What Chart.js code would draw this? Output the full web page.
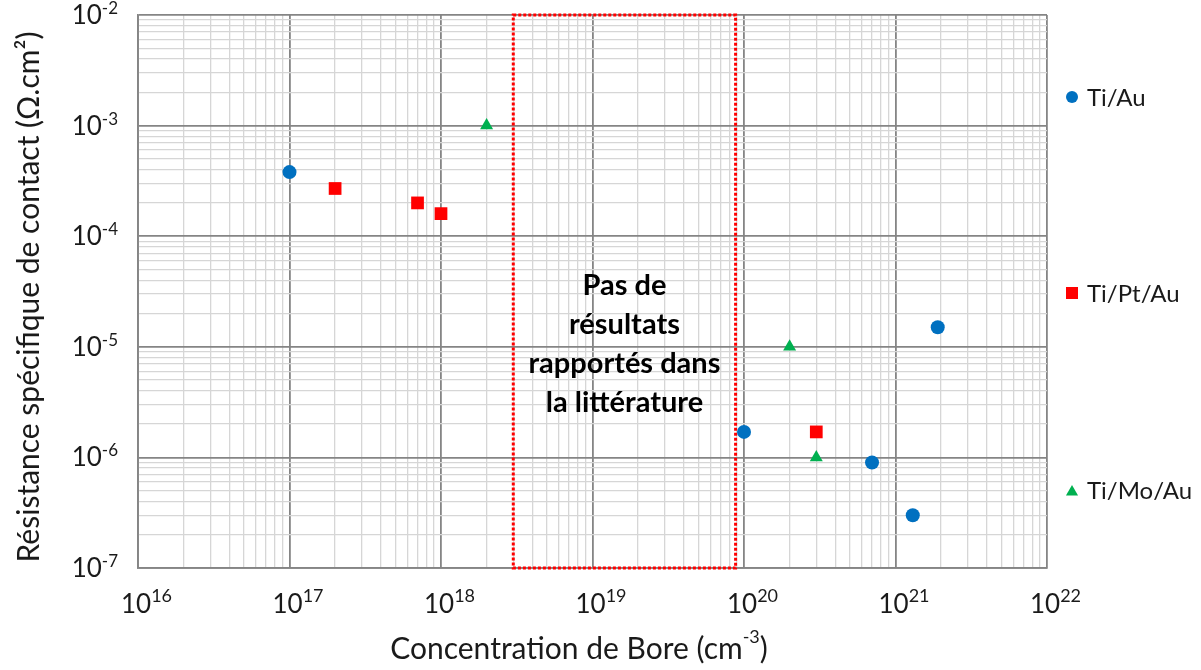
<!DOCTYPE html>
<html>
<head>
<meta charset="utf-8">
<script src="https://cdn.jsdelivr.net/npm/chart.js@4/dist/chart.umd.min.js"></script>
<style>
  html, body { margin: 0; padding: 0; background: #fff; }
  #wrap { position: relative; width: 1201px; height: 670px; }
</style>
</head>
<body>
<div id="wrap"><canvas id="chart" width="1201" height="670"></canvas></div>
<script>
// data
const seriesNames = ['Ti/Au', 'Ti/Pt/Au', 'Ti/Mo/Au'];
const tiAuX = [1e17, 1e20, 7e20, 1.3e21, 1.9e21];
const tiAuY = [3.8e-4, 1.7e-6, 9e-7, 3e-7, 1.5e-5];
const tiPtAuX = [2e17, 7e17, 1e18, 3e20];
const tiPtAuY = [2.7e-4, 2e-4, 1.6e-4, 1.7e-6];
const tiMoAuX = [2e18, 2e20, 3e20];
const tiMoAuY = [1e-3, 1e-5, 1e-6];

const xExponents = [16, 17, 18, 19, 20, 21, 22];
const yExponents = [-7, -6, -5, -4, -3, -2];

// zone with no reported results
const gapX = [3e18, 8.8e19];
const gapY = [1e-7, 1e-2];
const gapText = ['Pas de', 'résultats', 'rapportés dans', 'la littérature'];

const xTitle = 'Concentration de Bore (cm';
const xTitleSup = '-3';
const xTitleEnd = ')';
const yTitle = 'Résistance spécifique de contact (Ω.cm²)';

const FONT = 'Lato, "Open Sans", sans-serif';

function toPoints(xs, ys) {
  return xs.map((x, i) => ({ x: x, y: ys[i] }));
}

// all 1..9 x 10^n ticks so the minor grid shows
function logTicks(exps) {
  const out = [];
  for (let i = 0; i < exps.length; i++) {
    const base = Math.pow(10, exps[i]);
    out.push({ value: base });
    if (i < exps.length - 1) {
      for (let m = 2; m <= 9; m++) out.push({ value: m * base });
    }
  }
  return out;
}

function isMajor(v) {
  const l = Math.log10(v);
  return Math.abs(l - Math.round(l)) < 1e-6;
}

function gridColor(ctx) {
  return ctx.tick && isMajor(ctx.tick.value) ? '#858585' : '#d6d6d6';
}
function gridWidth(ctx) {
  return ctx.tick && isMajor(ctx.tick.value) ? 1.8 : 1.3;
}

// "10" with a raised exponent, left edge at x
function drawPow(ctx, left, y, exp, big, small, rise) {
  ctx.textAlign = 'left';
  ctx.textBaseline = 'alphabetic';
  ctx.font = big + 'px ' + FONT;
  const w1 = ctx.measureText('10').width;
  ctx.fillText('10', left, y);
  ctx.font = small + 'px ' + FONT;
  ctx.fillText(exp, left + w1, y - rise);
  return w1 + ctx.measureText(exp).width;
}

function powWidth(ctx, exp, big, small) {
  ctx.font = big + 'px ' + FONT;
  const w1 = ctx.measureText('10').width;
  ctx.font = small + 'px ' + FONT;
  return w1 + ctx.measureText(exp).width;
}

const decorPlugin = {
  id: 'decor',
  beforeDatasetsDraw(chart) {
    const ctx = chart.ctx;
    const xs = chart.scales.x, ys = chart.scales.y;
    const x0 = xs.getPixelForValue(gapX[0]), x1 = xs.getPixelForValue(gapX[1]);
    const y0 = ys.getPixelForValue(gapY[1]), y1 = ys.getPixelForValue(gapY[0]);
    ctx.save();
    ctx.strokeStyle = '#ff0000';
    ctx.lineWidth = 3;
    ctx.setLineDash([3, 2]);
    ctx.strokeRect(x0, y0, x1 - x0, y1 - y0);
    ctx.setLineDash([]);
    ctx.fillStyle = '#000';
    ctx.font = 'bold 29px ' + FONT;
    ctx.textAlign = 'center';
    ctx.textBaseline = 'alphabetic';
    const cx = (x0 + x1) / 2;
    gapText.forEach((t, i) => ctx.fillText(t, cx, 295 + i * 39));
    ctx.restore();
  },
  afterDraw(chart) {
    const ctx = chart.ctx;
    const xs = chart.scales.x, ys = chart.scales.y;
    ctx.save();
    ctx.fillStyle = '#1a1a1a';
    xExponents.forEach(e => {
      const px = xs.getPixelForValue(Math.pow(10, e));
      drawPow(ctx, px - 17, 613, String(e), 26, 18, 11);
    });
    yExponents.forEach(e => {
      const py = ys.getPixelForValue(Math.pow(10, e));
      const w = powWidth(ctx, String(e), 26, 17);
      drawPow(ctx, 118 - w, py + 9, String(e), 26, 17, 10);
    });

    // x title
    ctx.font = '30px ' + FONT;
    const a = ctx.measureText(xTitle).width;
    ctx.font = '18px ' + FONT;
    const b = ctx.measureText(xTitleSup).width;
    ctx.font = '30px ' + FONT;
    const c = ctx.measureText(xTitleEnd).width;
    const left = 579 - (a + b + c) / 2;
    ctx.textAlign = 'left';
    ctx.fillText(xTitle, left, 659);
    ctx.font = '18px ' + FONT;
    ctx.fillText(xTitleSup, left + a, 643);
    ctx.font = '30px ' + FONT;
    ctx.fillText(xTitleEnd, left + a + b, 659);

    // y title
    ctx.translate(39, 297);
    ctx.rotate(-Math.PI / 2);
    ctx.textAlign = 'center';
    ctx.font = '30px ' + FONT;
    ctx.fillText(yTitle, 0, 0);
    ctx.restore();

    // legend on the right
    const legendY = [97, 293, 490];
    const legendR = [6, 8.5, 7];
    ctx.save();
    chart.data.datasets.forEach((ds, i) => {
      ctx.fillStyle = ds.backgroundColor;
      ctx.strokeStyle = ds.backgroundColor;
      Chart.helpers.drawPoint(ctx, {
        pointStyle: ds.pointStyle,
        radius: legendR[i],
        borderWidth: 0
      }, 1072, legendY[i] + (ds.pointStyle === 'triangle' ? 2 : 0));
      ctx.fillStyle = '#1a1a1a';
      ctx.font = '24px ' + FONT;
      ctx.textAlign = 'left';
      ctx.textBaseline = 'middle';
      ctx.fillText(ds.label, 1087, legendY[i] + 1);
    });
    ctx.restore();
  }
};

new Chart(document.getElementById('chart'), {
  type: 'scatter',
  data: {
    datasets: [
      {
        label: seriesNames[0],
        data: toPoints(tiAuX, tiAuY),
        pointStyle: 'circle',
        pointRadius: 7,
        backgroundColor: '#0070c0',
        borderColor: '#0070c0',
        borderWidth: 0
      },
      {
        label: seriesNames[1],
        data: toPoints(tiPtAuX, tiPtAuY),
        pointStyle: 'rect',
        pointRadius: 9,
        backgroundColor: '#ff0000',
        borderColor: '#ff0000',
        borderWidth: 0
      },
      {
        label: seriesNames[2],
        data: toPoints(tiMoAuX, tiMoAuY),
        pointStyle: 'triangle',
        pointRadius: 7.5,
        backgroundColor: '#00b050',
        borderColor: '#00b050',
        borderWidth: 0
      }
    ]
  },
  options: {
    responsive: false,
    animation: false,
    layout: { padding: { left: 138, right: 154, top: 15, bottom: 102 } },
    plugins: {
      legend: { display: false },
      tooltip: { enabled: false }
    },
    scales: {
      x: {
        type: 'logarithmic',
        min: 1e16,
        max: 1e22,
        afterBuildTicks: s => { s.ticks = logTicks(xExponents); },
        ticks: { display: false },
        grid: { color: gridColor, lineWidth: gridWidth, drawTicks: false },
        border: { display: true, color: '#858585', width: 1.8 }
      },
      y: {
        type: 'logarithmic',
        min: 1e-7,
        max: 1e-2,
        afterBuildTicks: s => { s.ticks = logTicks(yExponents); },
        ticks: { display: false },
        grid: { color: gridColor, lineWidth: gridWidth, drawTicks: false },
        border: { display: true, color: '#858585', width: 1.8 }
      }
    }
  },
  plugins: [decorPlugin]
});
</script>
</body>
</html>
